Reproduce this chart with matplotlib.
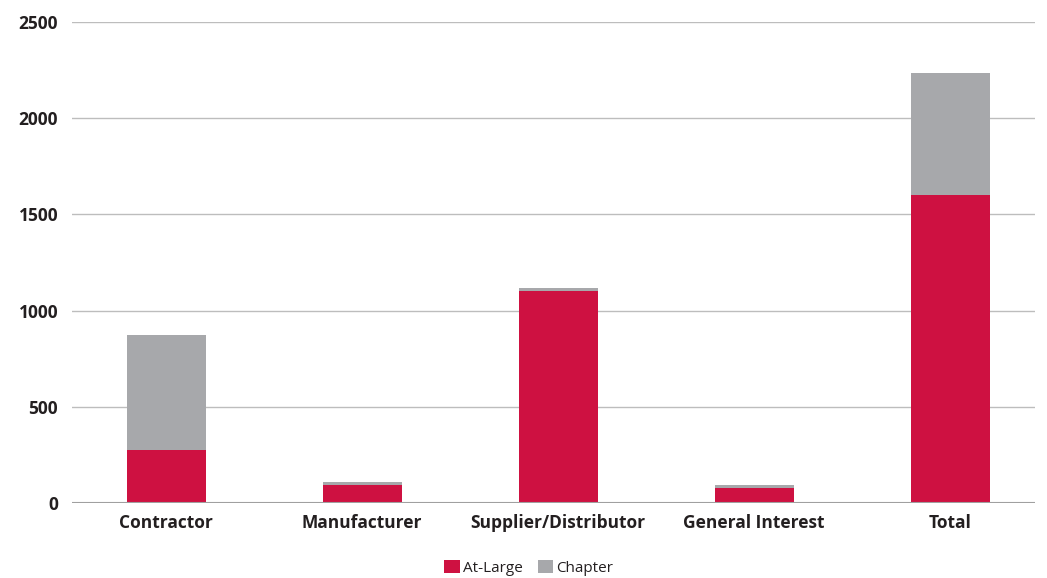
import matplotlib
matplotlib.use('Agg')
import matplotlib.pyplot as plt
import numpy as np

categories = ['Contractor', 'Manufacturer', 'Supplier/Distributor', 'General Interest', 'Total']
at_large = [275, 94, 1102, 78, 1601]
chapter = [598, 15, 15, 16, 634]

RED = '#CE1141'
GRAY = '#A7A8AB'

plt.rcParams['font.family'] = ['Open Sans', 'DejaVu Sans']

fig = plt.figure(figsize=(10.47, 5.78), dpi=100)
ax = fig.add_axes([0.0688, 0.1298, 0.9197, 0.8322])

x = np.arange(len(categories))
ax.bar(x, at_large, width=0.403, color=RED, label='At-Large', zorder=3)
ax.bar(x, chapter, width=0.403, bottom=at_large, color=GRAY, label='Chapter', zorder=3)

ax.set_xlim(-0.48, 4.433)
ax.set_ylim(0, 2500)
ax.set_yticks([0, 500, 1000, 1500, 2000, 2500])
ax.yaxis.grid(True, color='#BDBDBD', lw=1, zorder=0)
ax.axhline(0, color='#A0A0A0', lw=1.5, zorder=4)
for s in ax.spines.values():
    s.set_visible(False)
ax.tick_params(axis='both', length=0, labelsize=12.5, colors='#231F20')
ax.tick_params(axis='x', pad=8)
ax.tick_params(axis='y', pad=10)
for lab in ax.get_yticklabels() + ax.get_xticklabels():
    lab.set_fontweight('bold')
ax.set_xticks(x)
ax.set_xticklabels(categories)

fig.legend(loc='center', bbox_to_anchor=(0.505, 0.018), ncol=2, frameon=False,
           fontsize=11, handlelength=1.0, handleheight=1.0, handletextpad=0.2,
           columnspacing=1.0, labelcolor='#231F20')

fig.savefig('out.png', dpi=100)
